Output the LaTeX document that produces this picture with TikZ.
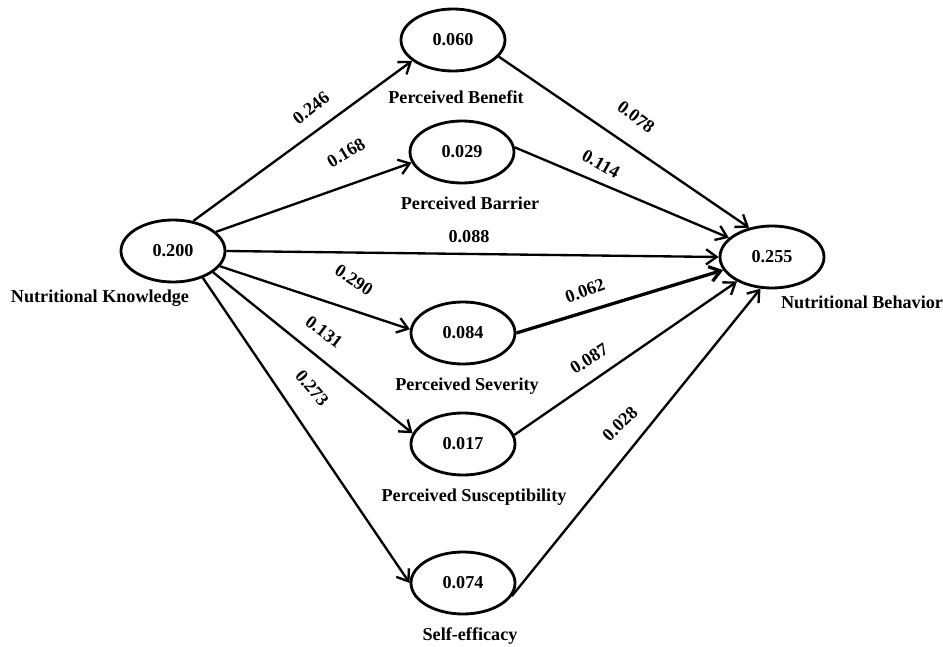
\documentclass[tikz,border=0pt]{standalone}
\usepackage{fontspec}
\setmainfont{Liberation Serif}
\usetikzlibrary{arrows.meta}
\usetikzlibrary{shapes.geometric}

\begin{document}
\begin{tikzpicture}[x=0.3mm, y=-0.3mm,
  var/.style={ellipse,draw=black,line width=2.4pt,minimum width=31.2mm,minimum height=18.6mm,inner sep=0pt,font=\bfseries\fontsize{15.5}{18}\selectfont},
  varname/.style={font=\bfseries\fontsize{15.5}{18}\selectfont,inner sep=0pt},
  coef/.style={font=\bfseries\fontsize{15.5}{18}\selectfont,inner sep=0pt},
  link/.style={-{Straight Barb[length=9pt,width=13pt]},line width=2pt}]
\useasboundingbox (0,0) rectangle (943,647);
\node at (173, 251) (NK)   [var] {0.200};
\node at (453,  40) (PBen) [var] {0.060};
\node at (462, 152) (PBar) [var] {0.029};
\node at (463, 333) (PSev) [var] {0.084};
\node at (463, 444) (PSus) [var] {0.017};
\node at (463, 583) (SE)   [var] {0.074};
\node at (772, 257) (NB)   [var] {0.255};
\node at (100, 298) (NKname)   [varname] {Nutritional Knowledge};
\node at (456,  97) (PBenname) [varname] {Perceived Benefit};
\node at (470, 203) (PBarname) [varname] {Perceived Barrier};
\node at (467, 386) (PSevname) [varname] {Perceived Severity};
\node at (474, 497) (PSusname) [varname] {Perceived Susceptibility};
\node at (470, 636) (SEname)   [varname] {Self-efficacy};
\node at (862, 302) (NBname)   [varname] {Nutritional Behavior};
\draw [link] (NK.56) -- (PBen.207);
\draw [link] (NK.24) -- (PBar.192);
\draw [link] (NK.east) -- (NB.west);
\draw [link] (NK.-18) -- (PSev.176);
\draw [link] (NK.-28) -- (PSus.168);
\draw [link] (NK.-42) -- (SE.west);
\draw [link] (PBen.-20) -- (NB.128);
\draw [link] (PBar.5) -- (NB.156);
\draw [link,line width=2.8pt] (PSev.east) -- (NB.195);
\draw [link] (PSus.10) -- (NB.215);
\draw [link] (SE.-15) -- (NB.250);
\node at (311, 108) (c1)  [coef, rotate=38]  {0.246};
\node at (346, 153) (c2)  [coef, rotate=31]  {0.168};
\node at (469, 237) (c3)  [coef]             {0.088};
\node at (354, 280) (c4)  [coef, rotate=-33] {0.290};
\node at (324, 332) (c5)  [coef, rotate=-37] {0.131};
\node at (312, 388) (c6)  [coef, rotate=-50] {0.273};
\node at (636, 117) (c7)  [coef, rotate=-37] {0.078};
\node at (601, 164) (c8)  [coef, rotate=-29] {0.114};
\node at (585, 291) (c9)  [coef, rotate=20]  {0.062};
\node at (589, 359) (c10) [coef, rotate=32]  {0.087};
\node at (620, 424) (c11) [coef, rotate=44]  {0.028};
\end{tikzpicture}
\end{document}
